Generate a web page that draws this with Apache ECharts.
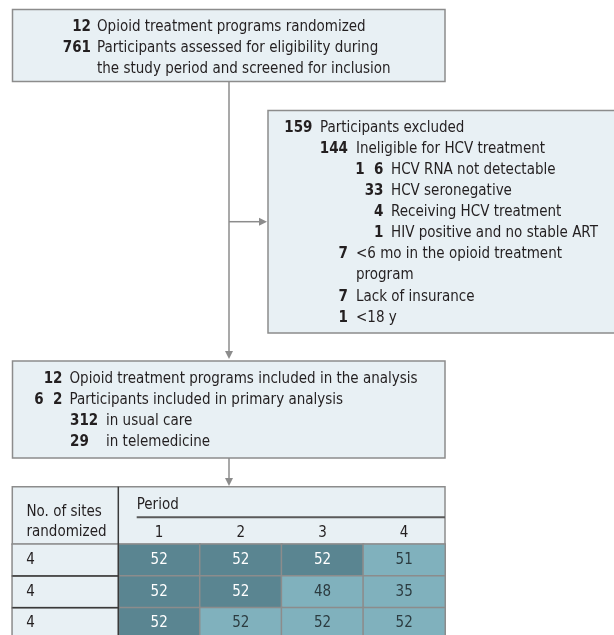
<!DOCTYPE html>
<html>
<head>
<meta charset="utf-8">
<script src="https://cdn.jsdelivr.net/npm/echarts@6/dist/echarts.min.js"></script>
<style>
	html, body { margin: 0; padding: 0; background: #fff; }
	#chart { width: 614px; height: 635px; }
</style>
</head>
<body>
<div id="chart"></div>
<script>
// flow chart counts and labels
const screenCounts = ['12', '761'];
const screenLabels = [
	'Opioid treatment programs randomized',
	'Participants assessed for eligibility during\nthe study period and screened for inclusion'
];

const excludedCounts = ['159', '144', '1  6', '33', '4', '1', '7', '7', '1'];
const excludedLabels = [
	'Participants excluded',
	'Ineligible for HCV treatment',
	'HCV RNA not detectable',
	'HCV seronegative',
	'Receiving HCV treatment',
	'HIV positive and no stable ART',
	'<6 mo in the opioid treatment\nprogram',
	'Lack of insurance',
	'<18 y'
];
const excludedLevels = [0, 1, 2, 2, 2, 2, 1, 1, 1];

const analysisCounts = ['12', '6  2', '312', '29'];
const analysisLabels = [
	'Opioid treatment programs included in the analysis',
	'Participants included in primary analysis',
	'in usual care',
	'in telemedicine'
];
const analysisLevels = [0, 0, 1, 1];

// stepped wedge table
const periods = ['1', '2', '3', '4'];
const sitesRandomized = ['4', '4', '4'];
const participants = [
	[52, 52, 52, 51],
	[52, 52, 48, 35],
	[52, 52, 52, 52]
];
// 0 = usual care, 1 = telemedicine
const telemedicine = [
	[0, 0, 0, 1],
	[0, 0, 1, 1],
	[0, 1, 1, 1]
];

const FONT = "'DejaVu Sans Condensed', sans-serif";
const FS = 15;
const INK = '#231f20';
const BOX = '#e8f0f4';
const EDGE = '#8c8c8c';
const DARK = '#5a8591';
const LIGHT = '#80b1bd';

const chart = echarts.init(document.getElementById('chart'), null, { renderer: 'canvas' });

function text(x, y, str, opts) {
	return {
		type: 'text',
		z: 20,
		style: Object.assign({
			x: x,
			y: y,
			text: str,
			fill: INK,
			fontFamily: FONT,
			fontSize: FS,
			lineHeight: 21,
			textAlign: 'left',
			textVerticalAlign: 'middle'
		}, opts || {})
	};
}

function box(x, y, w, h) {
	return {
		type: 'rect',
		z: 1,
		shape: { x: x, y: y, width: w, height: h },
		style: { fill: BOX, stroke: EDGE, lineWidth: 1.5 }
	};
}

function line(x1, y1, x2, y2, color, width) {
	return {
		type: 'line',
		z: 15,
		shape: { x1: x1, y1: y1, x2: x2, y2: y2 },
		style: { stroke: color || EDGE, lineWidth: width || 1.5 }
	};
}

function arrowDown(x, tip) {
	return { type: 'polygon', z: 15, shape: { points: [[x - 4, tip - 8], [x + 4, tip - 8], [x, tip]] }, style: { fill: EDGE } };
}

function arrowRight(tip, y) {
	return { type: 'polygon', z: 15, shape: { points: [[tip - 8, y - 4], [tip - 8, y + 4], [tip, y]] }, style: { fill: EDGE } };
}

const graphics = [];

// top box
graphics.push(box(12.5, 9.5, 432.5, 72));
let y = 27;
screenCounts.forEach((c, i) => {
	graphics.push(text(91, y, c, { textAlign: 'right', fontWeight: 'bold' }));
	graphics.push(text(97, y, screenLabels[i], { textVerticalAlign: 'top', y: y - 10.5 }));
	y += 21 * screenLabels[i].split('\n').length;
});

// exclusion box
graphics.push(box(268, 110.5, 360, 222.5));
const exNumX = [312.5, 348, 383.5];
const exTextX = [320, 356, 391];
y = 128;
excludedCounts.forEach((c, i) => {
	const lv = excludedLevels[i];
	graphics.push(text(exNumX[lv], y, c, { textAlign: 'right', fontWeight: 'bold' }));
	graphics.push(text(exTextX[lv], y, excludedLabels[i], { textVerticalAlign: 'top', y: y - 10.5 }));
	y += 21.1 * excludedLabels[i].split('\n').length;
});

// analysis box
graphics.push(box(12.5, 361, 432.5, 97));
y = 379.5;
analysisCounts.forEach((c, i) => {
	const lv = analysisLevels[i];
	if (lv === 0) {
		graphics.push(text(62.5, y, c, { textAlign: 'right', fontWeight: 'bold' }));
		graphics.push(text(69.5, y, analysisLabels[i]));
	} else {
		graphics.push(text(70, y, c, { fontWeight: 'bold' }));
		graphics.push(text(106, y, analysisLabels[i]));
	}
	y += 20.8;
});

// connectors
graphics.push(line(229, 81.5, 229, 352));
graphics.push(arrowDown(229, 359));
graphics.push(line(229, 221.7, 260, 221.7));
graphics.push(arrowRight(267, 221.7));
graphics.push(line(229, 458, 229, 479));
graphics.push(arrowDown(229, 486));

// table header
const tableLeft = 12.3;
const splitX = 118.3;
const tableRight = 445;
const tableTop = 486.7;
const headBottom = 544.3;
const rowH = 31.7;

graphics.push({
	type: 'rect',
	z: 0,
	shape: { x: tableLeft, y: tableTop, width: tableRight - tableLeft, height: headBottom - tableTop },
	style: { fill: BOX, stroke: EDGE, lineWidth: 1.5 }
});
graphics.push(text(26.5, 502, 'No. of sites\nrandomized', { textVerticalAlign: 'top', lineHeight: 20 }));
graphics.push(text(136.7, 505, 'Period'));
graphics.push(line(136.7, 517.3, tableRight, 517.3, '#5a5a5a', 2));
graphics.push(line(splitX, tableTop, splitX, headBottom + rowH * 3 + 2, '#3a3a3a', 1.5));
for (let r = 1; r < sitesRandomized.length; r++) {
	graphics.push(line(tableLeft, headBottom + rowH * r, splitX, headBottom + rowH * r, '#3a3a3a', 1.5));
}

const cellData = [];
participants.forEach((row, r) => {
	row.forEach((v, c) => {
		const tele = telemedicine[r][c] === 1;
		cellData.push({
			value: [c, r, v],
			itemStyle: { color: tele ? LIGHT : DARK },
			label: { color: tele ? '#2b3b40' : '#ffffff' }
		});
	});
});

const siteData = sitesRandomized.map((s, r) => [0, r, s]);
const rowNames = sitesRandomized.map((s, r) => 'row' + r);

chart.setOption({
	animation: false,
	graphic: graphics,
	grid: [
		{ left: splitX, top: headBottom, width: tableRight - splitX, height: rowH * 3, outerBoundsMode: 'none' },
		{ left: tableLeft, top: headBottom, width: splitX - tableLeft, height: rowH * 3, outerBoundsMode: 'none' }
	],
	xAxis: [
		{
			type: 'category',
			gridIndex: 0,
			data: periods,
			position: 'top',
			z: 30,
			axisLine: { show: false },
			axisTick: { show: false },
			splitLine: { show: false },
			axisLabel: { margin: 4, color: INK, fontFamily: FONT, fontSize: FS }
		},
		{ type: 'category', gridIndex: 1, data: ['sites'], show: false }
	],
	yAxis: [
		{ type: 'category', gridIndex: 0, data: rowNames, inverse: true, show: false },
		{ type: 'category', gridIndex: 1, data: rowNames, inverse: true, show: false }
	],
	series: [
		{
			type: 'heatmap',
			xAxisIndex: 0,
			yAxisIndex: 0,
			data: cellData,
			itemStyle: { borderColor: EDGE, borderWidth: 1.5 },
			label: {
				show: true,
				fontFamily: FONT,
				fontSize: FS,
				formatter: (p) => String(p.value[2])
			},
			emphasis: { disabled: true }
		},
		{
			type: 'heatmap',
			xAxisIndex: 1,
			yAxisIndex: 1,
			data: siteData,
			itemStyle: { color: BOX, borderColor: EDGE, borderWidth: 1.5 },
			label: {
				show: true,
				position: 'insideLeft',
				distance: 15,
				color: INK,
				fontFamily: FONT,
				fontSize: FS,
				formatter: (p) => String(p.value[2])
			},
			emphasis: { disabled: true }
		}
	]
});
</script>
</body>
</html>
